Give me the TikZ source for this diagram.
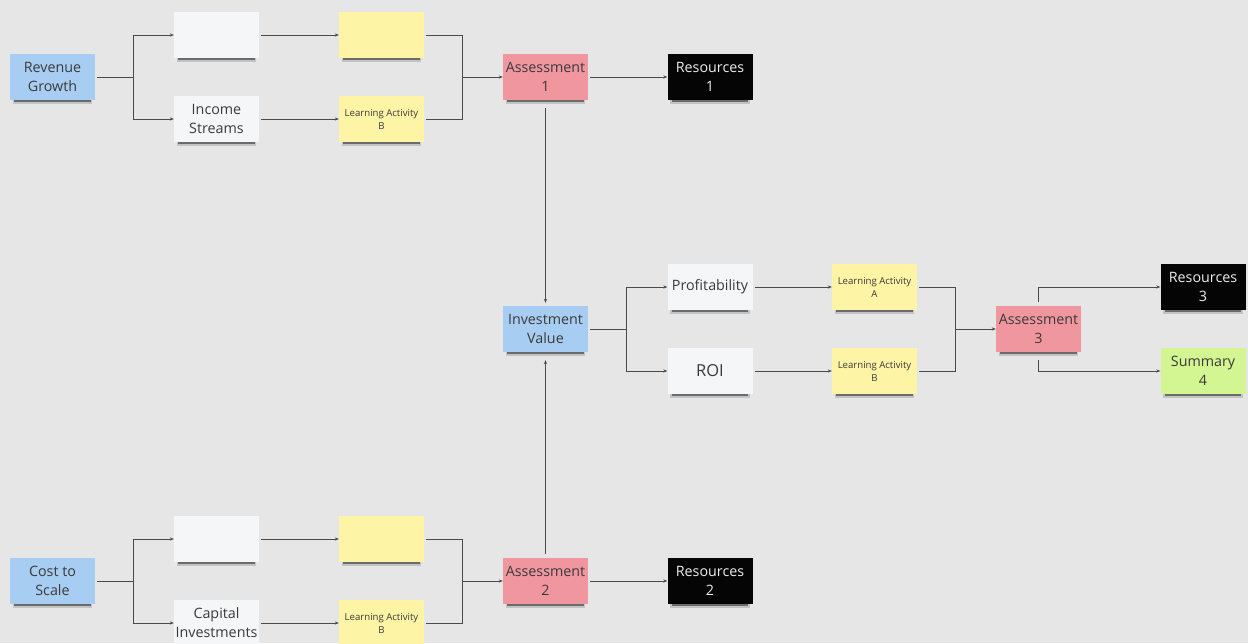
\documentclass[tikz,border=0pt]{standalone}
\usepackage{fontspec}
\setmainfont{Open Sans}
\usetikzlibrary{arrows.meta,shadows}
\definecolor{bg}{HTML}{E6E6E6}
\definecolor{wire}{HTML}{4A4A4A}
\definecolor{ink}{HTML}{3A3A3A}
\definecolor{noteblue}{HTML}{A8CDF2}
\definecolor{notewhite}{HTML}{F5F6F8}
\definecolor{noteyellow}{HTML}{FDF4A6}
\definecolor{notepink}{HTML}{F0969F}
\definecolor{noteblack}{HTML}{050505}
\definecolor{notegreen}{HTML}{D3F592}
\begin{document}
\begin{tikzpicture}[x=1pt,y=-1pt,
  note/.style={minimum width=85pt,minimum height=46pt,inner sep=0pt,align=center,
    text=ink,font=\fontsize{14.3}{19}\selectfont,
    general shadow={shadow xshift=0pt,shadow yshift=-6pt,shadow scale=0.93,opacity=0.15,fill=black},
    general shadow={shadow xshift=0pt,shadow yshift=-4.5pt,shadow scale=0.9,opacity=0.45,fill=black}},
  blue/.style={note,fill=noteblue},
  white/.style={note,fill=notewhite},
  yellow/.style={note,fill=noteyellow},
  small/.style={yellow,font=\fontsize{9.6}{13}\selectfont},
  pink/.style={note,fill=notepink},
  dark/.style={note,fill=noteblack,text=white!93!black},
  green/.style={note,fill=notegreen},
  wire/.style={draw=wire,line width=1pt},
  arr/.style={wire,-{Stealth[length=4pt,width=3.2pt]}}]
\fill[bg] (0,0) rectangle (1248,643);
\clip (0,0) rectangle (1248,643);

% upper branch
\node[blue]   (rg)  at (52.5,77)  {Revenue\\Growth};
\node[white]  (w1)  at (216.5,35) {};
\node[yellow] (y1)  at (381.5,35) {};
\node[white]  (is)  at (216.5,119) {Income\\Streams};
\node[small]  (lb1) at (381.5,119) {Learning Activity\\B};
\node[pink]   (a1)  at (545.5,77) {Assessment\\1};
\node[dark]   (r1)  at (710,77) {Resources\\1};

% middle branch
\node[blue]   (iv)  at (545.5,329) {Investment\\Value};
\node[white]  (pr)  at (710,287) {Profitability};
\node[white,font=\fontsize{16.5}{19}\selectfont] (roi) at (710,371) {ROI};
\node[small]  (la)  at (874.5,287) {Learning Activity\\A};
\node[small]  (lb2) at (874.5,371) {Learning Activity\\B};
\node[pink]   (a3)  at (1038.5,329) {Assessment\\3};
\node[dark]   (r3)  at (1203,287) {Resources\\3};
\node[green]  (s4)  at (1203,371) {Summary\\4};

% lower branch
\node[blue]   (cs)  at (52.5,581) {Cost to\\Scale};
\node[white]  (w2)  at (216.5,539) {};
\node[yellow] (y2)  at (381.5,539) {};
\node[white]  (ci)  at (216.5,623) {Capital\\Investments};
\node[small]  (lb3) at (381.5,623) {Learning Activity\\B};
\node[pink]   (a2)  at (545.5,581) {Assessment\\2};
\node[dark]   (r2)  at (710,581) {Resources\\2};

% split and join points
\coordinate (s1) at (133,77);
\coordinate (j1) at (462,77);
\coordinate (s2) at (133,581);
\coordinate (j2) at (462,581);
\coordinate (s3) at (626,329);
\coordinate (j3) at (955,329);

% upper connectors
\draw[wire] ([xshift=2pt]rg.east) -- (s1);
\draw[arr] (s1) |- (w1.west);
\draw[arr] (s1) |- (is.west);
\draw[arr] ([xshift=2pt]w1.east) -- (y1.west);
\draw[arr] ([xshift=2pt]is.east) -- (lb1.west);
\draw[wire] ([xshift=2pt]y1.east) -| (j1);
\draw[wire] ([xshift=2pt]lb1.east) -| (j1);
\draw[arr] (j1) -- (a1.west);
\draw[arr] ([xshift=2pt]a1.east) -- (r1.west);

% lower connectors
\draw[wire] ([xshift=2pt]cs.east) -- (s2);
\draw[arr] (s2) |- (w2.west);
\draw[arr] (s2) |- (ci.west);
\draw[arr] ([xshift=2pt]w2.east) -- (y2.west);
\draw[arr] ([xshift=2pt]ci.east) -- (lb3.west);
\draw[wire] ([xshift=2pt]y2.east) -| (j2);
\draw[wire] ([xshift=2pt]lb3.east) -| (j2);
\draw[arr] (j2) -- (a2.west);
\draw[arr] ([xshift=2pt]a2.east) -- (r2.west);

% into the investment value
\draw[arr] ([yshift=-8pt]a1.south) -- ([yshift=3pt]iv.north);
\draw[arr] ([yshift=4pt]a2.north) -- ([yshift=-8pt]iv.south);

% middle connectors
\draw[wire] ([xshift=2pt]iv.east) -- (s3);
\draw[arr] (s3) |- (pr.west);
\draw[arr] (s3) |- (roi.west);
\draw[arr] ([xshift=2pt]pr.east) -- (la.west);
\draw[arr] ([xshift=2pt]roi.east) -- (lb2.west);
\draw[wire] ([xshift=2pt]la.east) -| (j3);
\draw[wire] ([xshift=2pt]lb2.east) -| (j3);
\draw[arr] (j3) -- (a3.west);
\draw[arr] ([yshift=4pt]a3.north) |- (r3.west);
\draw[arr] ([yshift=-8pt]a3.south) |- (s4.west);
\end{tikzpicture}
\end{document}
